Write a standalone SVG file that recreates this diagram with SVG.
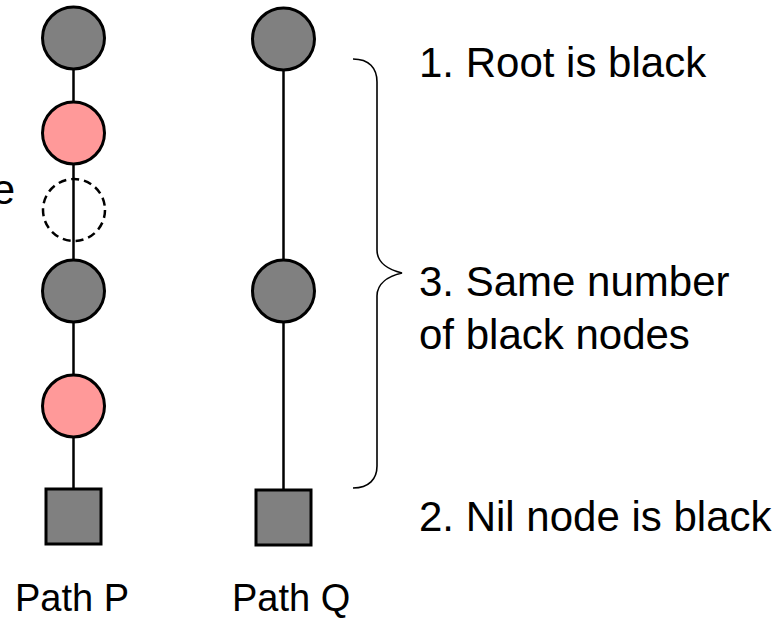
<svg xmlns="http://www.w3.org/2000/svg" width="782" height="618" viewBox="0 0 782 618">
  <style>
    .black { fill: #808080; stroke: #000; stroke-width: 3; }
    .red { fill: #ff9999; stroke: #000; stroke-width: 3; }
    .empty { fill: none; stroke: #000; stroke-width: 2.5; stroke-dasharray: 8 5; }
    .edge { stroke: #000; stroke-width: 2.5; fill: none; }
    .brace { stroke: #000; stroke-width: 1.6; fill: none; }
    text { font-family: "Liberation Sans", Arial, sans-serif; font-size: 42px; fill: #000; }
    text.caption { font-size: 38px; }
  </style>
  <rect width="782" height="618" fill="#fff"/>

  <!-- connectors -->
  <g id="edges">
    <line class="edge" x1="73.5" y1="69" x2="73.5" y2="489"/>
    <line class="edge" x1="283.5" y1="70" x2="283.5" y2="490"/>
  </g>

  <!-- path P -->
  <g id="p-root"><circle class="black" cx="73.5" cy="38" r="31"/></g>
  <g id="p-red1"><circle class="red" cx="73.5" cy="133" r="31"/></g>
  <g id="p-removed"><circle class="empty" cx="74" cy="210" r="31"/></g>
  <g id="p-black2"><circle class="black" cx="73.5" cy="291" r="31"/></g>
  <g id="p-red2"><circle class="red" cx="73.5" cy="406" r="31"/></g>
  <g id="p-nil"><rect class="black" x="46" y="489" width="55" height="55"/></g>

  <!-- path Q -->
  <g id="q-root"><circle class="black" cx="283.5" cy="39" r="31"/></g>
  <g id="q-black2"><circle class="black" cx="283.5" cy="291" r="31"/></g>
  <g id="q-nil"><rect class="black" x="256" y="490" width="55" height="55"/></g>

  <!-- brace grouping the paths -->
  <g id="brace">
    <path class="brace" d="M353,59 C369,59 377,68 377,82 L377,250 C377,263 389,270 402,273 C389,276 377,283 377,296 L377,466 C377,479 369,488 353,488"/>
  </g>

  <!-- labels -->
  <g id="labels">
    <text x="15" y="204" text-anchor="end">e</text>
    <text x="419" y="77">1. Root is black</text>
    <text x="419" y="296">3. Same number</text>
    <text x="419" y="349">of black nodes</text>
    <text x="419" y="531">2. Nil node is black</text>
    <text class="caption" x="15" y="611">Path P</text>
    <text class="caption" x="232" y="611">Path Q</text>
  </g>
</svg>
